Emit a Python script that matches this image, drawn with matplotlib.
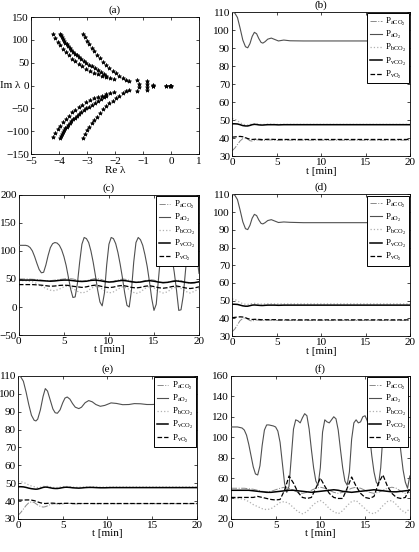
import matplotlib
matplotlib.use('Agg')
import matplotlib.pyplot as plt

plt.rcParams['font.family'] = ['Liberation Serif', 'DejaVu Serif']
plt.rcParams['mathtext.fontset'] = 'custom'
plt.rcParams['mathtext.rm'] = 'Liberation Serif'
plt.rcParams['mathtext.it'] = 'Liberation Serif:italic'
plt.rcParams['font.size'] = 8

# ---------------- (a) eigenvalues, upper half (lower half is the conjugate) ----------------
outer_re = [-4.22, -4.14, -4.05, -3.96, -3.86, -3.76, -3.65, -3.54, -3.42, -3.30, -3.17,
            -3.04, -2.90, -2.76, -2.62, -2.47, -2.32, -2.17, -2.02]
outer_im = [113, 104, 96, 88, 80, 73, 66, 59, 53, 47, 42, 37, 32, 28, 25, 22, 19, 17, 15]
mid_re = [-3.96, -3.93, -3.90, -3.86, -3.82, -3.78, -3.73, -3.68, -3.62, -3.56, -3.50, -3.43,
          -3.36, -3.28, -3.20, -3.11, -3.02, -2.92, -2.82, -2.72, -2.62, -2.51, -2.41, -2.31]
mid_im = [114, 110, 106, 102, 98, 94, 90, 86, 82, 78, 74, 70, 66, 62, 58, 54, 50, 46, 42,
          38, 34, 30, 26, 22]
inner_re = [-3.15, -3.08, -3.00, -2.92, -2.83, -2.74, -2.64, -2.54, -2.43, -2.32, -2.20,
            -2.08, -1.96, -1.84, -1.72, -1.60, -1.50]
inner_im = [114, 106, 98, 90, 82, 75, 68, 61, 52, 45, 39, 33, 27, 22, 17, 13, 9]
near_re = [-1.23, -1.13, -0.87, -0.85, -0.65, -0.63, -0.18, -0.05, 0.0]
near_im = [13, 4, 9, 3, 2, 0, 0, 0, 0]

# ---------------- (b) ----------------
t_b = [0, 0.3, 0.6, 0.9, 1.2, 1.5, 1.75, 2.0, 2.25, 2.5, 2.75, 3.0, 3.25, 3.45, 3.7, 4.0,
       4.4, 4.8, 5.2, 5.8, 6.5, 8, 10, 12, 14, 16, 18, 20]
paCO2_b = [33, 34.5, 36.5, 38.5, 39.8, 40.2, 39.5, 38.6, 38.4, 38.8, 39.1, 39.0, 38.8, 38.7,
           38.8, 39.0, 39.0, 38.9, 38.8, 38.9, 38.9, 38.9, 38.9, 38.9, 38.9, 38.9, 38.9, 38.9]
paO2_b = [110, 109.5, 107, 101, 94.5, 90.8, 90.2, 92.5, 96.5, 98.8, 98.0, 95.3, 93.2, 92.8,
          93.6, 95.0, 95.6, 94.8, 94.0, 94.5, 94.1, 94, 94, 94, 94, 94, 94, 94]
pbCO2_b = [51, 50.6, 49.7, 48.6, 47.8, 47.4, 47.3, 47.6, 47.9, 48.0, 47.9, 47.7, 47.6, 47.6,
           47.7, 47.8, 47.8, 47.7, 47.7, 47.7, 47.7, 47.7, 47.7, 47.7, 47.7, 47.7, 47.7, 47.7]
pvCO2_b = [48, 48, 47.9, 47.5, 47.0, 46.8, 46.8, 47.1, 47.5, 47.7, 47.6, 47.4, 47.3, 47.3,
           47.4, 47.5, 47.5, 47.5, 47.4, 47.5, 47.5, 47.5, 47.5, 47.5, 47.5, 47.5, 47.5, 47.5]
pvO2_b = [40.6, 40.7, 40.9, 41.0, 40.8, 40.3, 39.8, 39.5, 39.3, 39.4, 39.5, 39.4, 39.3, 39.2,
          39.3, 39.4, 39.4, 39.3, 39.3, 39.3, 39.3, 39.3, 39.3, 39.3, 39.3, 39.3, 39.3, 39.3]

# ---------------- (d) ----------------
t_d = [0, 0.3, 0.6, 0.9, 1.2, 1.5, 1.75, 2.0, 2.25, 2.5, 2.75, 3.0, 3.25, 3.45, 3.7, 4.0,
       4.4, 4.8, 5.2, 5.8, 6.5, 8, 10, 12, 14, 16, 18, 20]
paCO2_d = [32.5, 34, 36.5, 38.8, 40.0, 40.3, 39.6, 38.8, 38.5, 38.9, 39.1, 39.0, 38.9, 38.8,
           38.9, 39.0, 39.0, 38.9, 38.9, 38.9, 38.9, 38.9, 38.9, 38.9, 38.9, 38.9, 38.9, 38.9]
paO2_d = [110, 109.5, 107, 101, 94.5, 90.6, 90.1, 92.5, 96.5, 98.7, 98.0, 95.5, 93.6, 93.3,
          94.0, 95.2, 95.7, 94.9, 94.1, 94.4, 94.2, 94, 94, 94, 94, 94, 94, 94]
pbCO2_d = [51, 50.7, 49.9, 49.0, 48.3, 48.0, 47.9, 48.1, 48.4, 48.5, 48.4, 48.2, 48.1, 48.1,
           48.2, 48.3, 48.3, 48.2, 48.2, 48.2, 48.2, 48.2, 48.2, 48.2, 48.2, 48.2, 48.2, 48.2]
pvCO2_d = [48, 48, 47.9, 47.5, 47.1, 46.9, 46.9, 47.2, 47.5, 47.6, 47.5, 47.4, 47.3, 47.3,
           47.4, 47.5, 47.5, 47.5, 47.4, 47.5, 47.5, 47.5, 47.5, 47.5, 47.5, 47.5, 47.5, 47.5]
pvO2_d = [40.4, 40.6, 40.8, 40.9, 40.8, 40.4, 39.9, 39.6, 39.4, 39.5, 39.5, 39.4, 39.3, 39.2,
          39.3, 39.3, 39.3, 39.3, 39.2, 39.2, 39.2, 39.2, 39.2, 39.2, 39.2, 39.2, 39.2, 39.2]

# ---------------- (e) ----------------
t_e = [0, 0.3, 0.6, 0.9, 1.2, 1.5, 1.8, 2.0, 2.2, 2.5, 2.8, 3.05, 3.3, 3.6, 3.9, 4.15, 4.4,
       4.7, 5.0, 5.25, 5.5, 5.8, 6.1, 6.4, 6.8, 7.1, 7.5, 7.9, 8.3, 8.7, 9.2, 9.7, 10.4, 11,
       11.7, 12.4, 13, 13.7, 14.4, 15, 16, 17, 18, 19, 20]
paO2_e = [110, 109.5, 107, 101, 94, 88, 85.2, 84.8, 85.8, 91, 98.5, 102.9, 101.5, 96.5, 91.5,
          89.4, 89.1, 91, 95, 97.6, 98.2, 97, 94.5, 92.5, 91.7, 92.5, 95, 96.2, 95.5, 94, 93,
          93.5, 94.9, 94.6, 93.9, 94, 94.5, 94.4, 94, 94, 94.3, 94.2, 94.2, 94.3, 94.3]
paCO2_e = [32, 33.5, 35.5, 37.5, 39, 39.5, 39.2, 38.5, 37.8, 37.0, 36.6, 36.8, 37.3, 38.0,
           38.4, 38.5, 38.4, 38.3, 38.4, 38.6, 38.7, 38.6, 38.5, 38.4, 38.4, 38.5, 38.6, 38.6,
           38.5, 38.5, 38.4, 38.5, 38.5, 38.5, 38.5, 38.5, 38.5, 38.5, 38.5, 38.5, 38.5, 38.5,
           38.5, 38.5, 38.5]
pbCO2_e = [51, 50.8, 50.5, 49.7, 49.0, 48.4, 48.0, 47.7, 47.5, 47.7, 48.1, 48.3, 48.2, 47.9,
           47.6, 47.5, 47.6, 47.8, 48.0, 48.1, 48.1, 48.0, 47.8, 47.7, 47.7, 47.8, 47.9, 48.0,
           48.0, 47.9, 47.8, 47.8, 47.9, 47.9, 47.9, 47.9, 47.9, 47.9, 47.9, 47.9, 47.9, 47.9,
           47.9, 47.9, 47.9]
pvCO2_e = [48, 48, 47.9, 47.6, 47.2, 46.9, 46.7, 46.6, 46.7, 47.1, 47.6, 47.8, 47.7, 47.4,
           47.1, 47.0, 47.0, 47.2, 47.5, 47.7, 47.7, 47.6, 47.4, 47.3, 47.2, 47.3, 47.5, 47.6,
           47.6, 47.5, 47.4, 47.4, 47.5, 47.5, 47.5, 47.5, 47.5, 47.5, 47.5, 47.5, 47.5, 47.5,
           47.5, 47.5, 47.5]
pvO2_e = [40.5, 40.5, 40.5, 40.6, 40.6, 40.5, 40.2, 39.9, 39.5, 39.0, 38.7, 38.6, 38.7, 38.8,
          38.8, 38.7, 38.6, 38.6, 38.7, 38.7, 38.7, 38.7, 38.6, 38.6, 38.6, 38.6, 38.6, 38.6,
          38.6, 38.6, 38.6, 38.6, 38.6, 38.6, 38.6, 38.6, 38.6, 38.6, 38.6, 38.6, 38.6, 38.6,
          38.6, 38.6, 38.6]

# ---------------- (c) and (f): oscillating cases ----------------
t_q = [0, 0.25, 0.5, 0.75, 1.0, 1.25, 1.5, 1.75, 2.0, 2.25, 2.5, 2.75, 3.0, 3.25, 3.5, 3.75,
       4.0, 4.25, 4.5, 4.75, 5.0, 5.25, 5.5, 5.75, 6.0, 6.25, 6.5, 6.75, 7.0, 7.25, 7.5, 7.75,
       8.0, 8.25, 8.5, 8.75, 9.0, 9.25, 9.5, 9.75, 10.0, 10.25, 10.5, 10.75, 11.0, 11.25, 11.5,
       11.75, 12.0, 12.25, 12.5, 12.75, 13.0, 13.25, 13.5, 13.75, 14.0, 14.25, 14.5, 14.75,
       15.0, 15.25, 15.5, 15.75, 16.0, 16.25, 16.5, 16.75, 17.0, 17.25, 17.5, 17.75, 18.0,
       18.25, 18.5, 18.75, 19.0, 19.25, 19.5, 19.75, 20.0]
t_h = [0, 0.5, 1, 1.5, 2, 2.5, 3, 3.5, 4, 4.5, 5, 5.5, 6, 6.5, 7, 7.5, 8, 8.5, 9, 9.5, 10,
       10.5, 11, 11.5, 12, 12.5, 13, 13.5, 14, 14.5, 15, 15.5, 16, 16.5, 17, 17.5, 18, 18.5,
       19, 19.5, 20]

paO2_c = [110, 110, 110, 110, 109, 106, 100, 90, 78, 67, 61, 62, 75, 92, 106, 113, 115, 114,
          110, 102, 90, 74, 53, 32, 17, 18, 42, 80, 112, 124, 122, 115, 100, 80, 56, 30, 9, 2,
          25, 75, 112, 124, 122, 113, 97, 76, 52, 25, 3, 0, 30, 80, 115, 124, 120, 110, 93, 72,
          45, 15, -6, 5, 50, 95, 120, 125, 120, 108, 88, 62, 30, -6, -5, 20, 65, 105, 122, 124,
          115, 92, 60]
paCO2_c = [50, 50, 50, 49.5, 49, 48, 47, 47, 48, 49, 50, 51, 50, 48, 46, 47, 49, 51, 50, 47,
           45, 46, 48, 50, 49, 46, 44, 45, 47, 49, 48, 45, 43, 44, 46, 48, 47, 44, 42, 43, 45]
pbCO2_c = [47, 47, 46.5, 45, 42, 38, 33, 30, 29, 32, 36, 38, 33, 28, 25, 27, 33, 37, 35, 29,
           25, 27, 32, 36, 34, 28, 24, 27, 33, 37, 34, 28, 25, 27, 33, 36, 33, 28, 25, 28, 33]
pvCO2_c = [48, 48, 48, 48, 47.5, 47, 46.5, 46, 46.5, 47.5, 48, 48, 47, 46, 45.5, 46, 47.5, 48,
           47, 45.5, 44.5, 45, 46.5, 47.5, 46.5, 45, 44, 44.5, 46, 47, 46, 44.5, 43.5, 44, 45.5,
           46.5, 45.5, 44, 43, 43.5, 45]
pvO2_c = [40, 40, 40, 40, 39.5, 39, 38, 37, 37.5, 38.5, 39, 38.5, 37, 36, 35, 36, 38, 39, 37.5,
          35.5, 34.5, 35.5, 37.5, 38.5, 37, 35, 34, 35, 37, 38, 36.5, 34.5, 33.5, 34.5, 36.5,
          37.5, 36, 34, 33, 34, 36]

paO2_f = [110, 110, 110, 110, 109.5, 109, 107, 102, 93, 82, 71, 64, 63, 72, 92, 107, 112, 112,
          111.5, 111, 110, 106, 95, 75, 55, 46, 52, 80, 108, 117, 116, 114, 119, 123, 121, 108,
          88, 70, 57, 53, 70, 105, 117, 115, 114, 117, 120, 118, 107, 88, 70, 57, 53, 66, 98,
          114, 117, 114, 115, 120, 121, 116, 102, 82, 66, 56, 53, 70, 102, 116, 117, 115, 118,
          121, 119, 106, 86, 68, 56, 50, 62]
paCO2_f = [50, 50, 50, 50, 49.5, 49, 48, 47, 46.5, 47, 48.5, 50, 51, 50, 48, 46, 45, 46, 48,
           50, 51, 50, 48, 46, 45, 46, 48, 50, 51, 50, 48, 46, 45, 46, 48, 50, 51, 50, 47, 45, 46]
pbCO2_f = [40, 40, 40, 39, 37, 34, 32, 30, 29, 30, 33, 36, 37, 35, 31, 27, 25, 27, 32, 36, 38,
           35, 30, 27, 25, 28, 33, 37, 38, 34, 30, 26, 25, 28, 33, 37, 38, 34, 29, 26, 30]
pvCO2_f = [48, 48, 48, 48, 48, 47.5, 47, 46.5, 46, 46, 46.5, 47, 47.5, 48, 48, 47.5, 47, 46.5,
           46, 46.5, 47, 47.5, 48, 48.5, 48, 47, 46.5, 46, 46.5, 47, 47.5, 48, 48.5, 48, 47.5,
           47, 46.5, 46.5, 47, 47.5, 48]
pvO2_f = [41, 41, 41, 41, 41, 41, 42, 41, 40, 39, 38.5, 39, 48, 62, 55, 46, 41, 40, 41, 50, 60,
          52, 45, 41, 40, 40, 50, 61, 52, 45, 41, 40, 42, 55, 63, 52, 45, 41, 40, 41, 50]

labels = [r'P$_{\mathrm{aCO}_2}$', r'P$_{\mathrm{aO}_2}$', r'P$_{\mathrm{bCO}_2}$',
          r'P$_{\mathrm{vCO}_2}$', r'P$_{\mathrm{vO}_2}$']
styles = [dict(color='#8a8a8a', ls='-.', lw=0.7, zorder=2),
          dict(color='#505050', ls='-', lw=0.8, zorder=3),
          dict(color='#b0b0b0', ls=':', lw=0.9, zorder=2),
          dict(color='black', ls='-', lw=1.1, zorder=4),
          dict(color='black', ls='--', lw=0.9, zorder=4)]


def style_axes(ax):
    ax.tick_params(direction='in', top=True, right=True, length=2.5, width=0.5, pad=1.5,
                   labelsize=8)
    for sp in ax.spines.values():
        sp.set_linewidth(0.6)


def time_panel(rect, title, series, ylim, yticks):
    ax = fig.add_axes(rect)
    for (tt, yy), lab, st in zip(series, labels, styles):
        ax.plot(tt, yy, label=lab, **st)
    ax.set_xlim(0, 20)
    ax.set_ylim(*ylim)
    ax.set_xticks([0, 5, 10, 15, 20])
    ax.set_yticks(yticks)
    ax.set_xlabel('t [min]', labelpad=-0.5)
    ax.set_title(title, fontsize=8, pad=3)
    style_axes(ax)
    leg = ax.legend(loc='upper right', fontsize=6.5, handlelength=1.3, handletextpad=0.4,
                    borderpad=0.3, labelspacing=0.12, borderaxespad=0.15, fancybox=False,
                    framealpha=1, edgecolor='black')
    leg.get_frame().set_linewidth(0.7)
    return ax


fig = plt.figure(figsize=(4.19, 5.52), dpi=100)

# (a)
ax = fig.add_axes([0.074, 0.721, 0.401, 0.248])
for re_, im_ in [(outer_re, outer_im), (mid_re, mid_im), (inner_re, inner_im), (near_re, near_im)]:
    ax.plot(re_, im_, ls='none', marker='*', ms=3, color='black', mew=0.5)
    ax.plot(re_, [-v for v in im_], ls='none', marker='*', ms=3, color='black', mew=0.5)
ax.set_xlim(-5, 1)
ax.set_ylim(-150, 150)
ax.set_xticks(range(-5, 2))
ax.set_yticks(range(-150, 151, 50))
ax.set_xlabel('Re λ', labelpad=-0.5)
ax.set_ylabel('Im λ', rotation=0, ha='left', va='center')
ax.yaxis.set_label_coords(-0.185, 0.5)
ax.set_title('(a)', fontsize=8, pad=3)
style_axes(ax)
ax.tick_params(axis='x', pad=2.5)

time_panel([0.554, 0.717, 0.425, 0.261], '(b)',
           [(t_b, paCO2_b), (t_b, paO2_b), (t_b, pbCO2_b), (t_b, pvCO2_b), (t_b, pvO2_b)],
           (30, 110), range(30, 111, 10))
time_panel([0.045, 0.393, 0.430, 0.254], '(c)',
           [(t_h, paCO2_c), (t_q, paO2_c), (t_h, pbCO2_c), (t_h, pvCO2_c), (t_h, pvO2_c)],
           (-50, 200), range(-50, 201, 50))
time_panel([0.554, 0.391, 0.425, 0.257], '(d)',
           [(t_d, paCO2_d), (t_d, paO2_d), (t_d, pbCO2_d), (t_d, pvCO2_d), (t_d, pvO2_d)],
           (30, 110), range(30, 111, 10))
time_panel([0.043, 0.060, 0.427, 0.259], '(e)',
           [(t_e, paCO2_e), (t_e, paO2_e), (t_e, pbCO2_e), (t_e, pvCO2_e), (t_e, pvO2_e)],
           (30, 110), range(30, 111, 10))
time_panel([0.551, 0.060, 0.427, 0.259], '(f)',
           [(t_h, paCO2_f), (t_q, paO2_f), (t_h, pbCO2_f), (t_h, pvCO2_f), (t_h, pvO2_f)],
           (20, 160), range(20, 161, 20))

fig.savefig('out.png', dpi=100)
